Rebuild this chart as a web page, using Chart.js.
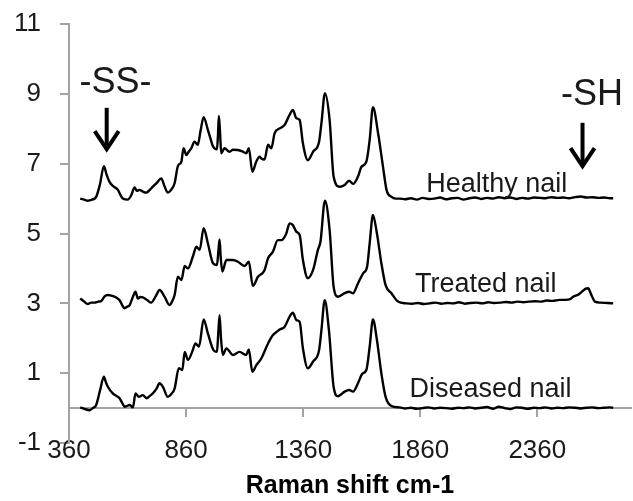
<!DOCTYPE html>
<html>
<head>
<meta charset="utf-8">
<script src="https://cdn.jsdelivr.net/npm/chart.js@4/dist/chart.umd.min.js"></script>
<style>
  html, body { margin: 0; padding: 0; background: #ffffff; }
  #wrap { width: 633px; height: 501px; }
</style>
</head>
<body>
<div id="wrap"><canvas id="c" width="633" height="501"></canvas></div>
<script>
// ---- tick labels ----
const xTicks = [360, 860, 1360, 1860, 2360];
const yTicks = [-1, 1, 3, 5, 7, 9, 11];

// ---- series names ----
const seriesNames = ['Healthy nail', 'Treated nail', 'Diseased nail'];

// ---- Healthy nail (offset spectrum) ----
const healthyX = [408,425,440,458,476,492,509,520,533,550,569,580,590,611,626,640,650,661,675,690,705,718,735,754,768,782,796,811,825,840,849,861,872,882,896,910,922,935,953,965,975,992,996,1000,1005,1010,1024,1046,1060,1081,1100,1117,1128,1143,1160,1174,1181,1195,1210,1224,1238,1260,1281,1302,1316,1331,1345,1359,1380,1402,1428,1438,1453,1473,1490,1516,1537,1556,1573,1594,1609,1630,1644,1658,1680,1701,1716,1737,1755,1772,
  1795,1820,1845,1870,1895,1920,1945,1970,1995,2020,2045,2070,2095,2120,2145,2170,2195,2220,2245,2270,2295,2320,2345,2370,2395,2420,2445,2470,2495,2520,2545,2570,2595,2620,2645,2670,2684];
const healthyY = [6.0,5.97,5.94,5.97,6.05,6.4,6.93,6.7,6.48,6.35,6.25,6.1,6.0,5.97,6.1,6.32,6.22,6.25,6.2,6.17,6.25,6.34,6.45,6.58,6.35,6.17,6.25,6.44,6.93,7.06,7.44,7.25,7.35,7.44,7.63,7.54,7.95,8.33,7.97,7.7,7.49,7.41,7.8,8.37,7.9,7.3,7.44,7.34,7.4,7.39,7.35,7.3,7.44,6.77,7.06,7.2,7.15,7.12,7.54,7.44,7.87,8.01,8.11,8.4,8.54,8.3,8.25,7.58,7.1,7.34,7.63,8.16,9.02,8.25,6.63,6.34,6.39,6.51,6.42,6.63,6.91,7.06,7.68,8.62,7.87,6.91,6.25,6.05,6.0,6.0,
  5.98,6.01,5.97,6.02,5.99,6.0,6.03,5.98,6.01,6.02,5.97,6.01,6.03,5.99,6.02,6.0,6.04,6.01,6.03,5.99,6.02,6.0,6.03,6.02,6.01,6.04,6.02,6.03,6.01,6.04,6.06,6.03,6.04,6.02,6.03,6.01,6.01];

// ---- Treated nail ----
const treatedX = [408,425,440,455,469,485,498,512,526,540,554,565,576,587,597,608,619,633,644,654,665,675,693,711,730,747,768,789,800,811,825,840,854,868,889,904,918,935,953,975,992,998,1003,1008,1015,1032,1060,1081,1110,1128,1145,1167,1195,1210,1231,1252,1267,1288,1302,1316,1331,1345,1359,1380,1402,1423,1434,1453,1473,1490,1509,1537,1556,1573,1594,1616,1633,1644,1658,1675,1694,1712,1737,1765,1801,
  1825,1850,1875,1900,1925,1950,1975,2000,2025,2050,2075,2100,2125,2150,2175,2200,2225,2250,2275,2300,2325,2350,2375,2400,2425,2456,2480,2500,2513,2535,2555,2567,2577,2590,2606,2630,2660,2684];
const treatedY = [3.14,3.05,2.98,3.02,3.02,3.05,3.07,3.2,3.24,3.22,3.19,3.15,3.09,2.95,2.86,2.9,2.95,3.19,3.33,3.14,3.18,3.17,3.1,3.02,3.2,3.38,3.19,2.95,3.05,3.24,3.76,3.67,4.07,4.0,4.34,4.62,4.53,5.15,4.72,4.15,4.1,4.5,4.83,4.3,3.91,4.24,4.24,4.19,4.07,4.19,3.5,3.76,3.95,4.29,4.48,4.81,4.81,5.0,5.29,5.24,5.05,4.96,4.24,3.72,3.95,4.53,4.77,5.94,5.1,3.48,3.19,3.29,3.33,3.29,3.57,3.86,4.05,4.72,5.53,5.0,4.15,3.52,3.29,3.05,3.0,
  2.99,3.01,2.98,3.0,3.02,2.99,3.01,3.0,3.03,2.99,3.01,3.02,3.0,3.03,3.01,3.02,3.04,3.02,3.05,3.03,3.05,3.06,3.05,3.08,3.07,3.1,3.1,3.12,3.19,3.25,3.36,3.42,3.43,3.25,3.05,3.02,3.01,3.0];

// ---- Diseased nail ----
const diseasedX = [408,425,448,462,476,493,509,517,526,547,562,576,587,597,608,619,633,644,658,675,692,705,718,733,747,761,782,796,811,829,844,854,868,886,900,915,935,953,977,992,997,1003,1009,1017,1032,1060,1088,1117,1128,1143,1160,1181,1210,1231,1252,1260,1281,1302,1316,1331,1345,1359,1380,1402,1428,1438,1452,1470,1490,1509,1537,1556,1573,1594,1613,1630,1644,1658,1675,1694,1712,1737,1772,
  1795,1820,1845,1870,1895,1920,1945,1970,1995,2020,2045,2070,2095,2120,2145,2170,2195,2220,2245,2270,2295,2320,2345,2370,2395,2420,2445,2470,2495,2520,2545,2570,2595,2620,2645,2670,2684];
const diseasedY = [0.02,-0.02,-0.06,0.0,0.09,0.52,0.9,0.75,0.61,0.42,0.35,0.28,0.15,0.04,0.06,0.09,0.02,0.42,0.32,0.37,0.28,0.35,0.42,0.55,0.71,0.61,0.32,0.4,0.56,1.14,1.09,1.61,1.38,1.61,1.85,1.76,2.54,2.14,1.66,1.61,2.1,2.66,2.0,1.52,1.71,1.52,1.61,1.52,1.68,1.04,1.23,1.42,1.85,2.09,2.21,2.25,2.33,2.62,2.73,2.52,2.47,1.71,1.14,1.33,1.66,2.23,3.09,2.23,0.61,0.34,0.47,0.52,0.47,0.71,0.99,1.09,1.76,2.54,1.95,0.99,0.32,0.06,0.02,
  -0.01,0.01,-0.02,0.0,0.02,-0.01,0.01,0.0,-0.02,0.01,0.0,0.02,-0.01,0.01,0.03,-0.02,0.04,0.0,-0.03,0.02,0.01,-0.02,0.01,0.0,0.02,-0.01,0.01,0.0,0.02,0.01,-0.01,0.01,0.02,0.0,0.01,0.02,0.01];

const FONT = "'Liberation Sans', Arial, Helvetica, sans-serif";
const AXIS_GREY = '#a3a3a3';

function toPoints(xs, ys) { return xs.map((x, i) => ({ x: x, y: ys[i] })); }
const seriesX = [healthyX, treatedX, diseasedX];
const seriesY = [healthyY, treatedY, diseasedY];

const datasets = seriesNames.map((name, i) => ({
  label: name,
  data: toPoints(seriesX[i], seriesY[i]),
  xAxisID: 'x',
  yAxisID: 'y',
  borderColor: '#000000',
  borderWidth: 2.4,
  pointRadius: 0,
  showLine: true,
  fill: false,
  cubicInterpolationMode: 'monotone'
}));

const setTicks = (arr) => (scale) => { scale.ticks = arr.map(v => ({ value: v })); };
const plainLabel = (v) => String(v);

// annotations: text labels and arrows, positioned in data coordinates
const annoPlugin = {
  id: 'annos',
  afterDatasetsDraw(chart) {
    const ctx = chart.ctx, xs = chart.scales.x, ys = chart.scales.y;
    ctx.save();
    ctx.fillStyle = '#1a1a1a';
    ctx.textAlign = 'center';
    ctx.textBaseline = 'alphabetic';
    const labels = [
      { t: seriesNames[0], x: 2187, y: 6.19 },
      { t: seriesNames[1], x: 2140, y: 3.33 },
      { t: seriesNames[2], x: 2160, y: 0.32 }
    ];
    ctx.font = '27px ' + FONT;
    labels.forEach(l => ctx.fillText(l.t, xs.getPixelForValue(l.x), ys.getPixelForValue(l.y)));
    ctx.font = '36px ' + FONT;
    ctx.fillText('-SS-', xs.getPixelForValue(559), ys.getPixelForValue(9.03));
    ctx.fillText('-SH', xs.getPixelForValue(2593), ys.getPixelForValue(8.68));
    const arrows = [ { x: 521, y1: 8.6, y2: 7.39 }, { x: 2553, y1: 8.17, y2: 6.9 } ];
    ctx.strokeStyle = '#000';
    ctx.lineWidth = 4;
    ctx.lineCap = 'butt';
    ctx.lineJoin = 'miter';
    arrows.forEach(a => {
      const px = xs.getPixelForValue(a.x), p1 = ys.getPixelForValue(a.y1), p2 = ys.getPixelForValue(a.y2);
      ctx.beginPath();
      ctx.moveTo(px, p1); ctx.lineTo(px, p2 - 2);
      ctx.stroke();
      ctx.beginPath();
      ctx.moveTo(px - 12, p2 - 19); ctx.lineTo(px, p2 - 1); ctx.lineTo(px + 12, p2 - 19);
      ctx.stroke();
    });
    ctx.restore();
  }
};

new Chart(document.getElementById('c'), {
  type: 'scatter',
  data: { datasets: datasets },
  plugins: [annoPlugin],
  options: {
    responsive: false,
    animation: false,
    devicePixelRatio: 1,
    layout: { padding: { top: 24, right: 2, left: 0, bottom: 0 } },
    plugins: { legend: { display: false }, tooltip: { enabled: false } },
    scales: {
      x: {
        type: 'linear', min: 360, max: 2760,
        position: { y: 0 },
        afterBuildTicks: setTicks(xTicks),
        ticks: { display: false },
        grid: { drawOnChartArea: false, drawTicks: true, tickLength: 8, color: AXIS_GREY, lineWidth: 2 },
        border: { display: true, color: AXIS_GREY, width: 2 }
      },
      xb: {
        type: 'linear', axis: 'x', position: 'bottom', min: 360, max: 2760,
        afterBuildTicks: setTicks(xTicks),
        afterFit: (s) => { s.height = 58; s.paddingTop = 0; s.paddingBottom = 0; },
        ticks: { color: '#1a1a1a', font: { family: FONT, size: 26 }, mirror: true, padding: -23, maxRotation: 0, autoSkip: false, callback: plainLabel },
        grid: { display: false, drawTicks: false },
        border: { display: false },
        title: { display: true, text: 'Raman shift cm-1', color: '#000', font: { family: FONT, size: 25, weight: 'bold' }, padding: { top: 0, bottom: 0 } }
      },
      y: {
        type: 'linear', min: -1, max: 11, position: 'left',
        afterBuildTicks: setTicks(yTicks),
        afterFit: (s) => { s.width = 69; s.paddingTop = 0; s.paddingBottom = 0; },
        ticks: { color: '#1a1a1a', font: { family: FONT, size: 26 }, padding: 19, autoSkip: false, callback: plainLabel },
        grid: { drawOnChartArea: false, drawTicks: true, tickLength: 9, color: AXIS_GREY, lineWidth: 2 },
        border: { display: true, color: AXIS_GREY, width: 2 }
      }
    }
  }
});
</script>
</body>
</html>
